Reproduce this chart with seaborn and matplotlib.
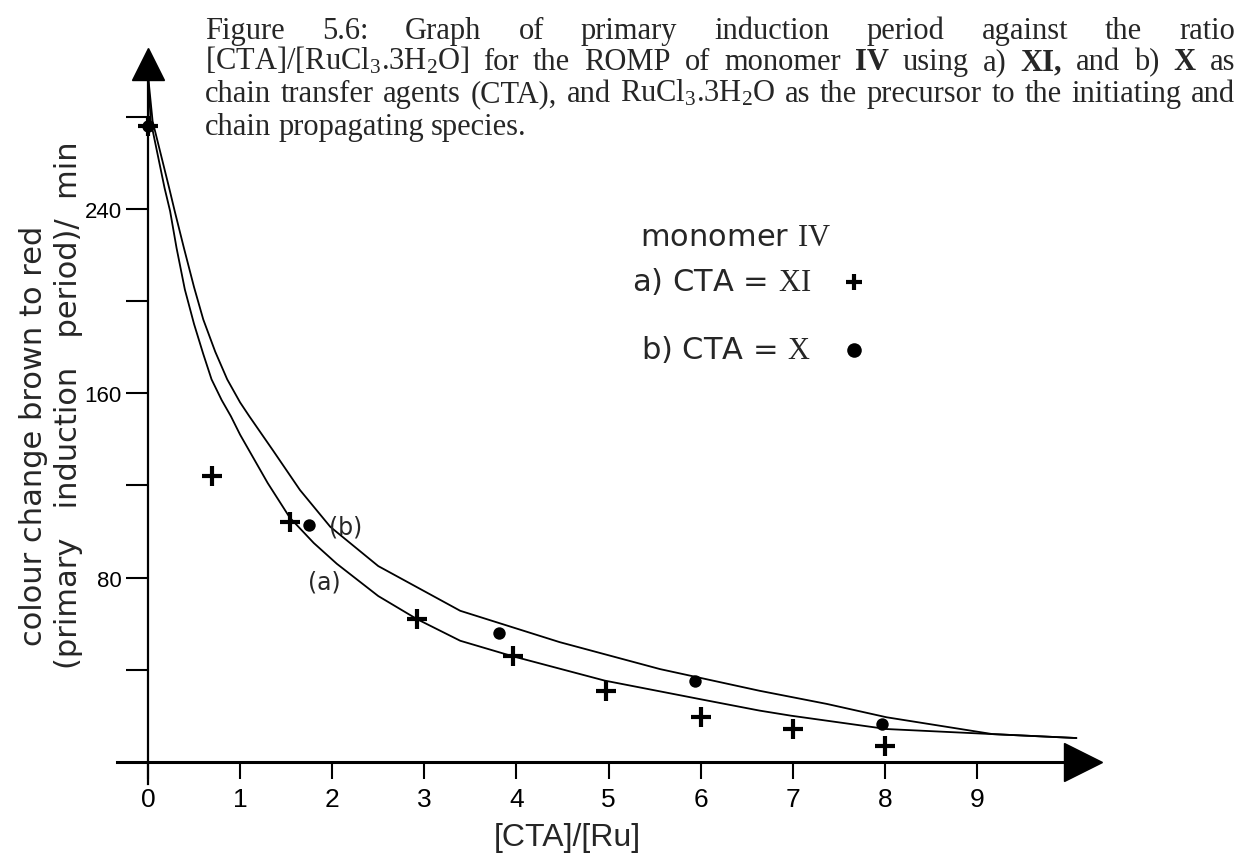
import matplotlib
matplotlib.use("Agg")
import matplotlib.pyplot as plt
import seaborn as sns

# ---------------- data ----------------
# series a) CTA = XI  (crosses)
xa = [0.0, 0.70, 1.54, 2.92, 3.96, 4.97, 6.0, 7.0, 8.0]
ya = [276, 124, 104, 62, 46, 31, 19.5, 14.3, 7]
# series b) CTA = X  (dots)
xb = [0.0, 1.75, 3.81, 5.94, 7.97]
yb = [276, 103, 56, 35, 16.5]
# fitted curves
curve_a_x = [0.0, 0.03, 0.18, 0.24, 0.31, 0.4, 0.5, 0.6, 0.69, 0.8, 0.9, 1.0, 1.1, 1.3,
             1.54, 1.8, 2.05, 2.5, 2.92, 3.39, 3.94, 4.96, 5.99, 6.64, 6.98, 8.02, 9.17, 10.08]
curve_a_y = [298, 278, 249, 239, 223, 205, 190, 177, 166, 157, 150, 142, 135, 121,
             106, 95, 86, 72, 62, 52.6, 46.1, 35.3, 27.3, 22.3, 20.1, 14.3, 12.1, 10.4]
curve_b_x = [0.0, 0.05, 0.23, 0.29, 0.39, 0.5, 0.6, 0.73, 0.86, 1.0, 1.1, 1.36, 1.65,
             1.98, 2.5, 3.28, 3.39, 4.47, 5.56, 6.64, 7.37, 8.02, 9.17, 10.08]
curve_b_y = [298, 278, 249, 239, 223, 206, 192, 178, 166, 156, 150, 135, 118,
             102, 85, 68, 65.6, 52, 40.3, 30.9, 25.2, 19.4, 12.1, 10.4]

x_ticks = [0, 1, 2, 3, 4, 5, 6, 7, 8, 9]
y_ticks = [40, 80, 120, 160, 200, 240, 280]
y_tick_labels = ["", "80", "", "160", "", "240", ""]

# ---------------- style ----------------
sns.set_theme(style="white")
plt.rcParams["font.family"] = ["DejaVu Sans"]
plt.rcParams["mathtext.fontset"] = "custom"
plt.rcParams["mathtext.rm"] = "Liberation Serif"
plt.rcParams["mathtext.it"] = "Liberation Serif:italic"
plt.rcParams["mathtext.bf"] = "Liberation Serif:bold"

W, H = 1260, 862
fig = plt.figure(figsize=(W / 100, H / 100), dpi=100)
fig.patch.set_facecolor("white")

# pixel mapping: px = 148 + 92.1*x ; py(from top) = 763 - 2.305*y
X0, SX = 148, 92.1
Y0, SY = 763, 2.305
ax = fig.add_axes([0, 0, 1, 1])
ax.set_xlim(-X0 / SX, (W - X0) / SX)
ax.set_ylim((Y0 - H) / SY, Y0 / SY)
ax.set_facecolor("white")
ax.grid(False)

# curves
sns.lineplot(x=curve_a_x, y=curve_a_y, sort=False, estimator=None, color="black",
             lw=1.3, ax=ax, legend=False)
sns.lineplot(x=curve_b_x, y=curve_b_y, sort=False, estimator=None, color="black",
             lw=1.3, ax=ax, legend=False)

# points
sns.scatterplot(x=xa, y=ya, marker="+", s=200, linewidth=3.0, color="black", ax=ax,
                legend=False, label=r"a) CTA = $\mathrm{XI}$", zorder=5)
sns.scatterplot(x=xb, y=yb, marker="o", s=80, linewidth=0, color="black", ax=ax,
                legend=False, label=r"b) CTA = $\mathrm{X}$", zorder=5)

# axes as arrows
X_LEFT, X_END = -0.34, 9.95
Y_BOTTOM, Y_END = -9.5, 296
for side in ["top", "right"]:
    ax.spines[side].set_visible(False)
ax.spines["left"].set_position(("data", 0))
ax.spines["bottom"].set_position(("data", 0))
ax.spines["left"].set_bounds(Y_BOTTOM, Y_END)
ax.spines["bottom"].set_bounds(X_LEFT, X_END)
ax.spines["left"].set_linewidth(1.6)
ax.spines["bottom"].set_linewidth(2.2)
ax.spines["left"].set_color("black")
ax.spines["bottom"].set_color("black")
ax.plot([X_END + 0.2], [0], marker=">", ms=28, color="black", clip_on=False)
ax.plot([0], [Y_END + 7], marker="^", ms=23, color="black", clip_on=False)

ax.set_xticks(x_ticks)
ax.set_xticklabels([str(v) for v in x_ticks])
ax.set_yticks(y_ticks)
ax.set_yticklabels(y_tick_labels)
ax.tick_params(axis="x", direction="out", length=12, width=1.5, pad=6,
               labelsize=19, colors="black", bottom=True)
ax.tick_params(axis="y", direction="out", length=16, width=1.5, pad=3,
               labelsize=16, colors="black", left=True)
for lab in ax.get_xticklabels() + ax.get_yticklabels():
    lab.set_family(["Liberation Sans"])

# curve labels
ax.text(1.91, 78.5, "(a)", fontsize=17, ha="center", va="center")
ax.text(2.15, 102, "(b)", fontsize=17, ha="center", va="center")

# axis titles
fig.text(567 / W, 1 - 838 / H, "[CTA]/[Ru]", fontsize=23, ha="center", va="center",
         family=["Liberation Sans"])
fig.text(34 / W, 1 - 436 / H, "colour change brown to red", rotation=90,
         fontsize=22, ha="center", va="center")
fig.text(69 / W, 1 - 405 / H, "(primary   induction   period)/  min", rotation=90,
         fontsize=22, ha="center", va="center")

# legend
fig.text(640 / W, 1 - 238 / H, r"monomer $\mathrm{IV}$", fontsize=22, ha="left",
         va="center")
leg = ax.legend(loc="upper left", bbox_to_anchor=(632 / W, 1 - 266 / H),
                bbox_transform=fig.transFigure, frameon=False, markerfirst=False,
                fontsize=22, handlelength=1.0, handletextpad=0.9,
                labelspacing=1.2, borderpad=0, borderaxespad=0)
hs = leg.legend_handles
hs[0].set_sizes([120])
hs[1].set_sizes([110])

# ---------------- caption (justified) ----------------
SERIF = ["Liberation Serif", "DejaVu Serif"]
CAP_FS = 22
lines = [
    ([("Figure", "normal"), ("5.6:", "normal"), ("Graph", "normal"), ("of", "normal"),
      ("primary", "normal"), ("induction", "normal"), ("period", "normal"),
      ("against", "normal"), ("the", "normal"), ("ratio", "normal")], 39, True),
    ([(r"[CTA]/[RuCl$_3$.3H$_2$O]", "normal"), ("for", "normal"), ("the", "normal"),
      ("ROMP", "normal"), ("of", "normal"), ("monomer", "normal"), ("IV", "bold"),
      ("using", "normal"), ("a)", "normal"), ("XI,", "bold"), ("and", "normal"),
      ("b)", "normal"), ("X", "bold"), ("as", "normal")], 70, True),
    ([("chain", "normal"), ("transfer", "normal"), ("agents", "normal"),
      ("(CTA),", "normal"), ("and", "normal"), (r"RuCl$_3$.3H$_2$O", "normal"),
      ("as", "normal"), ("the", "normal"), ("precursor", "normal"), ("to", "normal"),
      ("the", "normal"), ("initiating", "normal"), ("and", "normal")], 102, True),
    ([("chain", "normal"), ("propagating", "normal"), ("species.", "normal")], 135, False),
]
XL, XR = 205, 1235
renderer = fig.canvas.get_renderer()
for toks, base, just in lines:
    arts = []
    for s, w in toks:
        t = fig.text(0, 1 - base / H, s, fontsize=CAP_FS, fontweight=w, family=SERIF,
                     ha="left", va="baseline")
        arts.append(t)
    widths = [a.get_window_extent(renderer).width for a in arts]
    if just:
        gap = (XR - XL - sum(widths)) / (len(arts) - 1)
    else:
        gap = 7
    x = XL
    for a, wdt in zip(arts, widths):
        a.set_x(x / W)
        x += wdt + gap

fig.savefig("out.png", dpi=100, facecolor="white")
